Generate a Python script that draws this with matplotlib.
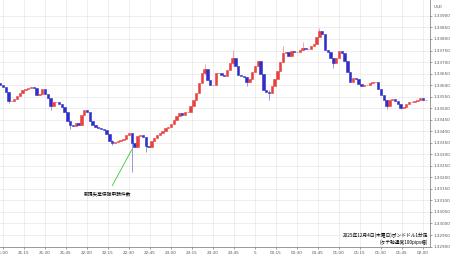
import numpy as np
import matplotlib
matplotlib.use("Agg")
import matplotlib.pyplot as plt

# 2-minute closes, GBP/USD, starting 20:58
first_open = 1.33610
closes = [
    1.33601, 1.33593, 1.33571, 1.33532, 1.33532, 1.33541, 1.33554, 1.33567, 1.33580, 1.33584,
    1.33588, 1.33593, 1.33588, 1.33558, 1.33562, 1.33584, 1.33562, 1.33545, 1.33510, 1.33528,
    1.33528, 1.33519, 1.33506, 1.33484, 1.33445, 1.33428, 1.33424, 1.33437, 1.33428, 1.33471,
    1.33493, 1.33484, 1.33445, 1.33428, 1.33419, 1.33415, 1.33411, 1.33406, 1.33389, 1.33359,
    1.33350, 1.33354, 1.33359, 1.33363, 1.33367, 1.33385, 1.33393, 1.33350, 1.33333, 1.33380,
    1.33385, 1.33376, 1.33337, 1.33333, 1.33359, 1.33372, 1.33385, 1.33393, 1.33402, 1.33415,
    1.33419, 1.33432, 1.33450, 1.33467, 1.33480, 1.33471, 1.33484, 1.33484, 1.33510, 1.33536,
    1.33567, 1.33610, 1.33653, 1.33671, 1.33623, 1.33601, 1.33601, 1.33653, 1.33653, 1.33645,
    1.33640, 1.33666, 1.33697, 1.33718, 1.33684, 1.33645, 1.33640, 1.33636, 1.33614, 1.33627,
    1.33658, 1.33684, 1.33705, 1.33649, 1.33580, 1.33571, 1.33567, 1.33597, 1.33627, 1.33662,
    1.33701, 1.33740, 1.33744, 1.33727, 1.33748, 1.33744, 1.33744, 1.33753, 1.33761, 1.33757,
    1.33757, 1.33770, 1.33779, 1.33809, 1.33835, 1.33822, 1.33753, 1.33744, 1.33718, 1.33697,
    1.33718, 1.33748, 1.33740, 1.33705, 1.33658, 1.33614, 1.33632, 1.33627, 1.33606, 1.33597,
    1.33601, 1.33601, 1.33610, 1.33614, 1.33614, 1.33584, 1.33558, 1.33536, 1.33510, 1.33536,
    1.33541, 1.33532, 1.33519, 1.33502, 1.33506, 1.33519, 1.33528, 1.33528, 1.33532, 1.33536,
    1.33545, 1.33536, 1.33536,
]

# notable wicks: candle index, high, low
wick_idx = [3, 18, 25, 40, 47, 52, 73, 83, 88, 96, 101, 108, 114, 119, 138, 143]
wick_hi = [1.33571, 1.33528, 1.33437, 1.33363, 1.33393, 1.33376, 1.33692, 1.33753, 1.33636, 1.33580,
           1.33770, 1.33787, 1.33848, 1.33718, 1.33536, 1.33519]
wick_lo = [1.33523, 1.33493, 1.33411, 1.33342, 1.33225, 1.33311, 1.33645, 1.33684, 1.33597, 1.33536,
           1.33701, 1.33753, 1.33809, 1.33675, 1.33497, 1.33497]

tick_labels = ["21:00", "21:15", "21:30", "21:45", "22:00", "22:15", "22:30", "22:45",
               "23:00", "23:15", "23:30", "23:45", "5", "00:15", "00:30", "00:45",
               "01:00", "01:15", "01:30", "01:45", "02:00"]

event_idx = 47
event_label = "新規失業保険申請件数"
caption = ["2025年12月4日(木曜日)ポンドドル1分足", "(タテ軸通常100pips幅)"]

closes = np.array(closes)
opens = np.concatenate([[first_open], closes[:-1]])
minutes = np.arange(len(closes)) * 2 - 2  # minutes after 21:00

up_c = "#e8413f"
dn_c = "#2f2fc8"
jp = ["Noto Sans CJK JP", "DejaVu Sans"]

fig = plt.figure(figsize=(4.5, 2.58), dpi=100)
ax = fig.add_axes([0, 11 / 258, 430 / 450, 247 / 258])

colors = [up_c if c >= o else dn_c for o, c in zip(opens, closes)]
for i, wi in enumerate(wick_idx):
    ax.vlines(minutes[wi], wick_lo[i], wick_hi[i],
              color="#8a8ad0" if colors[wi] == dn_c else "#ee9a9a", lw=0.6, zorder=2)
ax.bar(minutes, closes - opens, bottom=opens, width=1.7, color=colors,
       edgecolor=colors, linewidth=0.4, zorder=3)

ax.set_xlim(-2.14, 305)
ax.set_ylim(1.32898, 1.33969)
ax.set_xticks(np.arange(len(tick_labels)) * 15)
ax.set_xticklabels(tick_labels)
yt = np.arange(1.329, 1.33901, 0.0005)
ax.set_yticks(yt)
ax.set_yticklabels(["%.5f" % v for v in yt])
ax.yaxis.tick_right()
ax.tick_params(labelsize=3.0, colors="#555555", length=1.5, width=0.4, pad=1.2)
ax.grid(color="#e8e8e8", linewidth=0.5)
ax.set_axisbelow(True)
for s in ["left", "top"]:
    ax.spines[s].set_visible(False)
for s in ["right", "bottom"]:
    ax.spines[s].set_color("#888888")
    ax.spines[s].set_linewidth(0.6)

fig.text(434 / 450, 1 - 7 / 258, "USD", fontsize=3.0, color="#555555", va="center")

ax.annotate(event_label, xy=(minutes[event_idx], 1.33320), xytext=(75, 1.33130),
            fontsize=3.4, ha="center", va="center", family=jp,
            arrowprops=dict(arrowstyle="-", color="#33cc33", lw=0.6, shrinkA=2, shrinkB=0))

ax.text(0.995, 0.046, caption[0], transform=ax.transAxes, fontsize=3.4, ha="right",
        va="center", family=jp)
ax.text(0.995, 0.020, caption[1], transform=ax.transAxes, fontsize=3.4, ha="right",
        va="center", family=jp)

fig.savefig("out.png", dpi=100)
